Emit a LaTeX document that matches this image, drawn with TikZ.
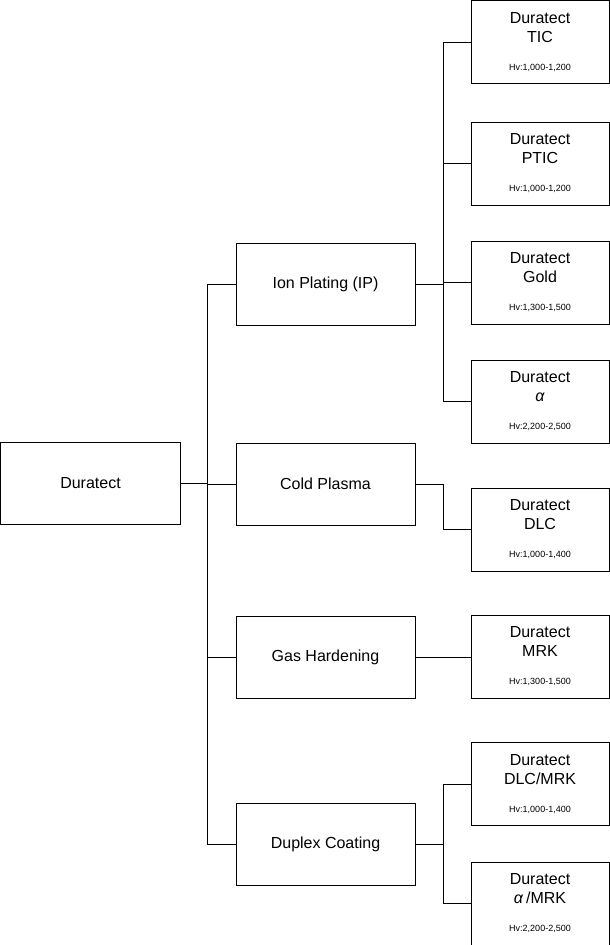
\documentclass[tikz,border=0pt]{standalone}
\usepackage{fontspec}
\setmainfont{Liberation Sans}
\usetikzlibrary{positioning}
\newcommand{\hvsize}{\fontsize{9}{11}\selectfont}

\begin{document}
\begin{tikzpicture}[
    x=1pt, y=-1pt,
    box/.style={rectangle, draw=black, line width=1pt, minimum width=179pt, minimum height=82pt, align=center, font=\fontsize{16}{20}\selectfont},
    leaf/.style={rectangle, draw=black, line width=1pt, minimum width=138pt, minimum height=83pt, align=center, font=\fontsize{16}{19}\selectfont},
    line/.style={line width=1pt}
]
\useasboundingbox (0,0) rectangle (610,945);

% Root
\node[box, minimum width=180pt] (root) at (90.5,483) {Duratect};

% Processes
\node[box] (ion) at (325.5,284) {Ion Plating (IP)};
\node[box] (cold) at (325.5,484) {Cold Plasma};
\node[box] (gas) at (325.5,657) {Gas Hardening};
\node[box] (duplex) at (325.5,844) {Duplex Coating};

% Products
\node[leaf] (tic) at (540,42) {Duratect\\TIC\\[9pt]{\hvsize Hv:1,000-1,200}};
\node[leaf] (ptic) at (540,163.5) {Duratect\\PTIC\\[9pt]{\hvsize Hv:1,000-1,200}};
\node[leaf] (gold) at (540,282.5) {Duratect\\Gold\\[9pt]{\hvsize Hv:1,300-1,500}};
\node[leaf] (alpha) at (540,401.5) {Duratect\\\textit{α}\\[9pt]{\hvsize Hv:2,200-2,500}};
\node[leaf] (dlc) at (540,529.5) {Duratect\\DLC\\[9pt]{\hvsize Hv:1,000-1,400}};
\node[leaf] (mrk) at (540,656.5) {Duratect\\MRK\\[9pt]{\hvsize Hv:1,300-1,500}};
\node[leaf] (dlcmrk) at (540,784) {Duratect\\DLC/MRK\\[9pt]{\hvsize Hv:1,000-1,400}};
\node[leaf] (amrk) at (540,903.5) {Duratect\\\textit{α}\,/MRK\\[9pt]{\hvsize Hv:2,200-2,500}};

% Bus points
\coordinate (rbus) at (207,483);
\coordinate (ibus) at (443,284);
\coordinate (dbus) at (443,844);

% Root connectors
\draw[line] (root) -- (rbus);
\foreach \n in {ion,cold,gas,duplex}
  \draw[line] (rbus) |- (\n.west);

% Ion plating connectors
\draw[line] (ion) -- (ibus);
\foreach \n in {tic,ptic,gold,alpha}
  \draw[line] (ibus) |- (\n.west);

% Single connectors
\draw[line] (cold.east) -- ++(28,0) |- (dlc.west);
\draw[line] (gas.east) -- (gas.east -| mrk.west);

% Duplex connectors
\draw[line] (duplex) -- (dbus);
\foreach \n in {dlcmrk,amrk}
  \draw[line] (dbus) |- (\n.west);

\end{tikzpicture}
\end{document}
